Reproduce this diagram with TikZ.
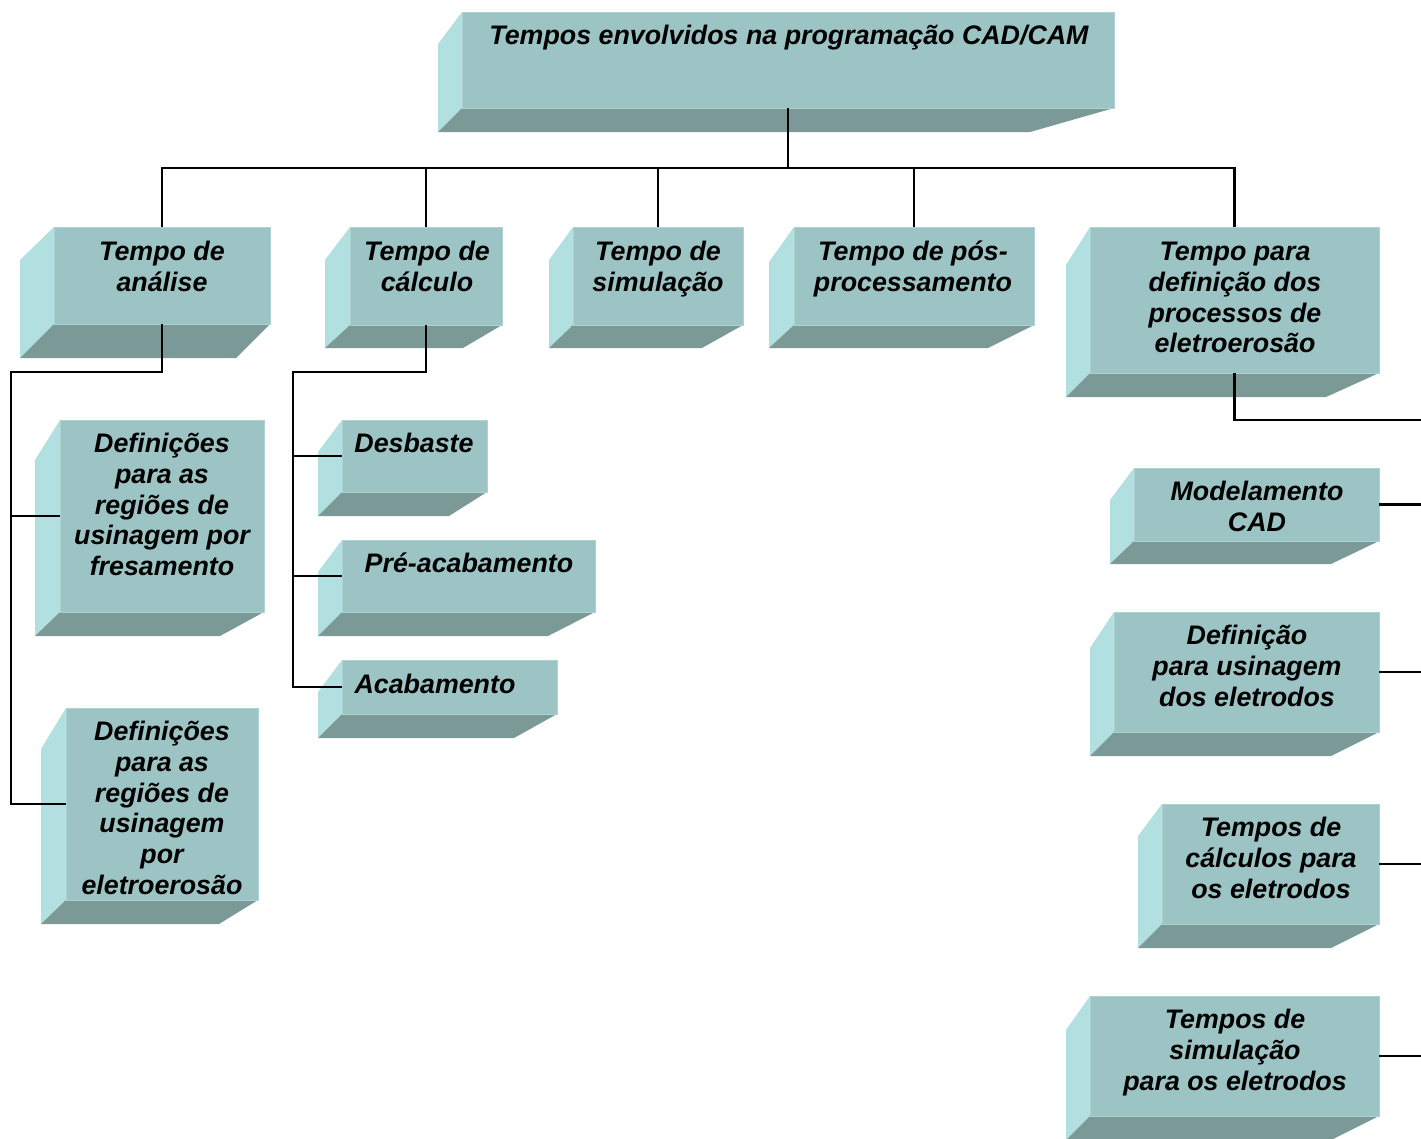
\documentclass[tikz,border=0pt]{standalone}
\usepackage{fontspec}
\setmainfont{Liberation Sans}
\definecolor{frontcol}{RGB}{157,196,196}
\definecolor{frontedge}{RGB}{172,210,210}
\definecolor{sidecol}{RGB}{178,223,224}
\definecolor{botcol}{RGB}{122,153,151}
\newcommand\tdbox[9]{%
  \fill[sidecol] (#2,#3) -- (#6,#7) -- (#6,#8) -- (#2,#5) -- cycle;
  \fill[botcol] (#6,#8) -- (#2,#5) -- (#4,#5) -- (#9,#8) -- cycle;
  \node[frontface, minimum width={(#4-#2)*1pt}, minimum height={(#5-#3)*1pt}] (#1) at ({(#2+#4)/2},{(#3+#5)/2}) {};
}
\tikzset{
  frontface/.style={rectangle, fill=frontcol, draw=frontedge, line width=1pt, inner sep=0pt, outer sep=0pt},
  lbl/.style={anchor=north, inner sep=0pt, align=center, text=black,
    font=\fontsize{26.8}{30.7}\selectfont\bfseries\itshape},
  conn/.style={draw=black, line width=2.1pt},
}
\begin{document}
\begin{tikzpicture}[x=1pt,y=-1pt]
\useasboundingbox[fill=white] (0,0) rectangle (1421,1138);
% boxes: name, x1,y1,x2,y2, xl,ylt,yb,xbr
\tdbox{top}{462}{12}{1114}{108}{438}{44}{132}{1030}
\tdbox{anal}{54}{227}{270}{324}{20}{260}{358}{236}
\tdbox{calc}{350}{227}{502}{325}{325}{260}{348}{463}
\tdbox{sim}{573}{227}{743}{325}{549}{260}{348}{702}
\tdbox{pos}{794}{227}{1034}{325}{769}{262}{348}{988}
\tdbox{elet}{1090}{227}{1379}{373}{1066}{265}{397}{1326}
\tdbox{fres}{60}{420}{264}{612}{35}{460}{636}{220}
\tdbox{eletero}{66}{708}{258}{900}{41}{749}{924}{219}
\tdbox{desb}{342}{420}{487}{492}{318}{452}{516}{449}
\tdbox{preac}{342}{540}{595}{612}{318}{572}{636}{548}
\tdbox{acab}{342}{660}{557}{714}{318}{692}{738}{514}
\tdbox{model}{1134}{468}{1379}{541}{1110}{500}{564}{1331}
\tdbox{defus}{1114}{612}{1379}{732}{1090}{648}{756}{1331}
\tdbox{tcalc}{1162}{804}{1379}{924}{1138}{836}{948}{1331}
\tdbox{tsim}{1090}{996}{1379}{1116}{1066}{1030}{1140}{1331}
% labels
\node[lbl] (top-t) at (789,23) {\strut Tempos envolvidos na programação CAD/CAM};
\node[lbl] (anal-t) at (162,239) {\strut Tempo de\\análise};
\node[lbl] (calc-t) at (427,239) {\strut Tempo de\\cálculo};
\node[lbl] (sim-t) at (658,239) {\strut Tempo de\\simulação};
\node[lbl] (pos-t) at (913,239) {\strut Tempo de pós-\\processamento};
\node[lbl] (elet-t) at (1235,239) {\strut Tempo para\\definição dos\\processos de\\eletroerosão};
\node[lbl] (fres-t) at (162,431) {\strut Definições\\para as\\regiões de\\usinagem por\\fresamento};
\node[lbl] (eletero-t) at (162,719) {\strut Definições\\para as\\regiões de\\usinagem\\por\\eletroerosão};
\node[lbl] (desb-t) at (414,431) {\strut Desbaste};
\node[lbl] (preac-t) at (469,551) {\strut Pré-acabamento};
\node[lbl] (acab-t) at (435,672) {\strut Acabamento};
\node[lbl] (model-t) at (1257,479) {\strut Modelamento\\CAD};
\node[lbl] (defus-t) at (1247,623) {\strut Definição\\para usinagem\\dos eletrodos};
\node[lbl] (tcalc-t) at (1271,815) {\strut Tempos de\\cálculos para\\os eletrodos};
\node[lbl] (tsim-t) at (1235,1007) {\strut Tempos de\\simulação\\para os eletrodos};
% connectors
\coordinate (bus) at (788,168);
\draw[conn, line width=2.6pt] (top.south) -- (bus);
\draw[conn] (anal.north) |- (bus) -| (elet.north);
\draw[conn] (calc.north) -- (calc.north |- bus);
\draw[conn] (sim.north) -- (sim.north |- bus);
\draw[conn] (pos.north) -- (pos.north |- bus);
\coordinate (aL) at (11,372);
\draw[conn] (anal.south) |- (aL) |- (eletero.west);
\draw[conn] (aL |- fres.west) -- (fres.west);
\coordinate (cL) at (293,372);
\draw[conn] (calc.south) |- (cL) |- (acab.west);
\draw[conn] (cL |- desb.west) -- (desb.west);
\draw[conn] (cL |- preac.west) -- (preac.west);
\coordinate (eR) at (1421,420);
\draw[conn] (elet.south) |- (eR);
\draw[conn] (model.east) -- (model.east -| eR);
\draw[conn] (defus.east) -- (defus.east -| eR);
\draw[conn] (tcalc.east) -- (tcalc.east -| eR);
\draw[conn] (tsim.east) -- (tsim.east -| eR);
\end{tikzpicture}
\end{document}
